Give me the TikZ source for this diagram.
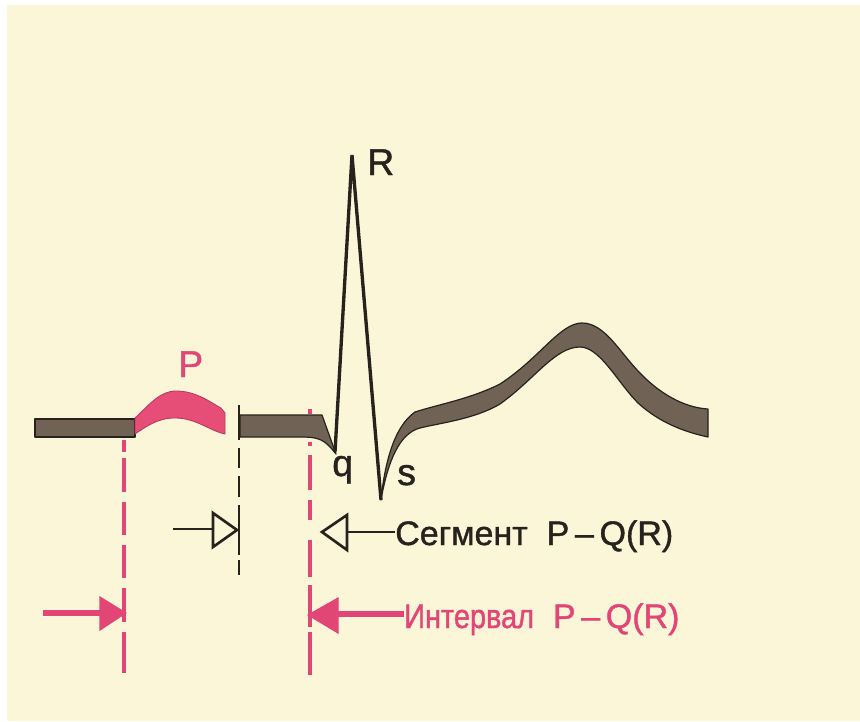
\documentclass[tikz,border=0pt]{standalone}
\usepackage{fontspec}
\setmainfont{Liberation Sans}
\newfontfamily\heavysans[FakeBold=1.2]{Liberation Sans}
\definecolor{paper}{RGB}{251,246,216}
\definecolor{band}{RGB}{112,98,84}
\definecolor{ink}{RGB}{40,34,30}
\definecolor{pinkfill}{RGB}{230,78,120}
\definecolor{pinkline}{RGB}{226,70,118}
\tikzset{
  bandshape/.style={fill=band, draw=ink, line width=0.9pt, line join=round},
  pshape/.style={fill=pinkfill, draw=pinkline!80!black, line width=0.6pt, line join=round},
  thinwave/.style={draw=ink, line width=2.5pt, line join=miter},
  pinkdash/.style={draw=pinkline, line width=2.6pt},
  blackdash/.style={draw=ink, line width=2.2pt},
  hollowhead/.style={draw=ink, fill=paper, line width=2pt, line join=miter},
  blackshaft/.style={draw=ink, line width=2.2pt},
  pinkhead/.style={fill=pinkline, draw=pinkline, line width=0.8pt, line join=miter},
  pinkshaft/.style={draw=pinkline, line width=4pt},
  wavelabel/.style={inner sep=0pt, anchor=base west, font=\heavysans\fontsize{28}{32}\selectfont, text=ink},
  capt/.style={inner sep=0pt, anchor=base west, font=\heavysans\fontsize{25.5}{30}\selectfont}
}
\begin{document}
\begin{tikzpicture}[x=0.75pt,y=-0.75pt]
\useasboundingbox (0,0) rectangle (860,721);
\fill[white] (0,0) rectangle (860,721);
\fill[paper] (7,5) rectangle (860,721);

% dashed guide lines
\foreach \a/\b in {440/452,458/492,502/535,545/578,588/622,632/673}
  \draw[pinkdash] (124,\a) -- (124,\b);
\foreach \a/\b in {409/414,442/446,455/490,500/520,540/577,585/627,632/675}
  \draw[pinkdash] (310,\a) -- (310,\b);
\foreach \a/\b in {405/440,448/468,476/497,505/555,560/575}
  \draw[blackdash] (239,\a) -- (239,\b);

% baseline segments
\draw[bandshape] (35,419) rectangle (135,437);
\draw[pshape] (135,418) .. controls (150,404) and (160,391) .. (176,391)
  .. controls (196,391) and (210,402) .. (221,408) -- (225,413) -- (225,434)
  .. controls (210,431) and (196,418) .. (175,418)
  .. controls (158,418) and (147,426) .. (135,434) -- cycle;
\draw[bandshape] (240,415) -- (322,415) -- (336,454) -- (331,448)
  .. controls (322,438) and (315,437) .. (300,437) -- (240,437) -- cycle;

% QRS
\coordinate (q) at (335,452);
\coordinate (r) at (352,155);
\coordinate (s) at (381,500);
\draw[thinwave] (q) -- (r) -- (s);

% S-T and T wave
\draw[bandshape] (s) .. controls (384,470) and (392,428) .. (415,412)
  .. controls (440,404) and (470,399) .. (500,384)
  .. controls (540,358) and (560,323) .. (582,323)
  .. controls (605,323) and (620,353) .. (640,373)
  .. controls (665,399) and (690,408) .. (708,409) -- (708,437)
  .. controls (685,432) and (660,423) .. (638,403)
  .. controls (618,383) and (600,347) .. (580,347)
  .. controls (555,347) and (535,379) .. (500,404)
  .. controls (475,419) and (440,423) .. (420,428)
  .. controls (400,433) and (388,460) .. (s) -- cycle;

% labels
\node[wavelabel] (lR) at (367,175) {R};
\node[wavelabel] (lq) at (332,476) {q};
\node[wavelabel] (ls) at (397,485) {s};
\node[wavelabel, text=pinkline] (lP) at (178,377) {P};

% segment arrows (black, hollow)
\coordinate (sa1) at (173,529);
\coordinate (sa2) at (213,529);
\draw[blackshaft] (sa1) -- (sa2);
\draw[hollowhead] (213,513) -- (237,530) -- (213,547) -- cycle;
\node[capt, text=ink] (seg) at (395,545) {Сегмент\ \ P\,–\,Q(R)};
\coordinate (sb1) at (347,532);
\draw[blackshaft] (sb1) -- (seg.west |- sb1);
\draw[hollowhead] (347,515) -- (322,532) -- (347,550) -- cycle;

% interval arrows (pink, filled)
\coordinate (ia1) at (43,613);
\coordinate (ia2) at (102,613);
\draw[pinkshaft] (ia1) -- (ia2);
\draw[pinkhead] (100,597) -- (126,613) -- (100,630) -- cycle;
\node[capt, text=pinkline] (int) at (404,628) {\scalebox{0.85}[1]{Интервал}\ \ P\,–\,Q(R)};
\coordinate (ib1) at (336,614);
\draw[pinkshaft] (ib1) -- (int.west |- ib1);
\draw[pinkhead] (338,598) -- (308,615) -- (338,633) -- cycle;
\end{tikzpicture}
\end{document}
